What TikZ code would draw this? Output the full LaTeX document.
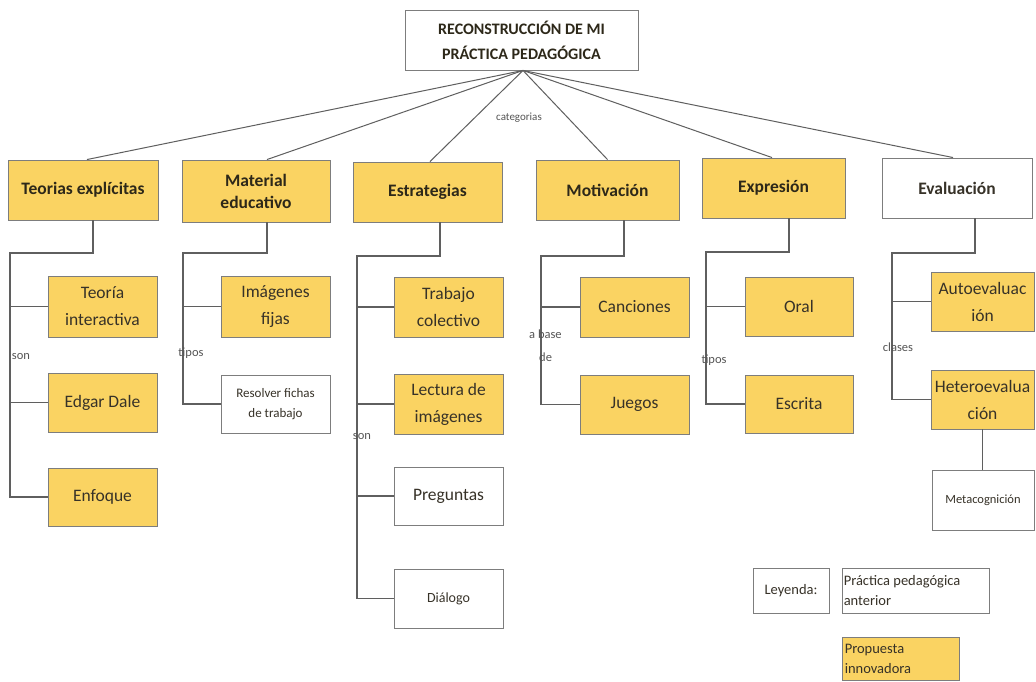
\documentclass[tikz,border=0pt]{standalone}
\usepackage{fontspec}
\setmainfont{Carlito}
\definecolor{ybox}{RGB}{250,211,98}
\definecolor{bord}{RGB}{125,125,125}
\definecolor{lin}{RGB}{95,95,95}
\definecolor{txt}{RGB}{45,40,25}
\definecolor{subtxt}{RGB}{55,50,40}
\definecolor{lbl}{RGB}{85,85,85}
\begin{document}
\begin{tikzpicture}[x=1pt,y=-1pt,
  box/.style={draw=bord, line width=0.9pt, align=center, inner sep=2pt, text=subtxt},
  yb/.style={box, fill=ybox},
  wb/.style={box, fill=white},
  lone/.style={font=\fontsize{17.5}{22}\selectfont\bfseries, text=txt},
  ltwo/.style={font=\fontsize{17.5}{27}\selectfont},
  lsmall/.style={font=\fontsize{13}{20}\selectfont},
  lab/.style={font=\fontsize{12.5}{15}\selectfont, text=lbl, inner sep=0pt},
  legtxt/.style={font=\fontsize{14.5}{20}\selectfont, text=subtxt, align=left, anchor=west, inner sep=0pt},
  con/.style={draw=lin, line width=1.1pt}]
\useasboundingbox[fill=white] (0,0) rectangle (1036,682);

% root
\node[wb, font=\fontsize{16}{25}\selectfont\bfseries, text=txt, minimum width=233pt, minimum height=60pt] (root) at (521.5,40) {RECONSTRUCCIÓN DE MI\\PRÁCTICA PEDAGÓGICA};
\coordinate (hub) at ([xshift=1.5pt]root.south);

% level 1
\node[yb,lone,minimum width=150pt,minimum height=60pt] (teo) at (83,190) {Teorias explícitas};
\node[yb,lone,minimum width=148pt,minimum height=62pt] (mat) at (256,191) {Material\\educativo};
\node[yb,lone,minimum width=149pt,minimum height=60pt] (est) at (427.5,192) {Estrategias};
\node[yb,lone,minimum width=143pt,minimum height=60pt] (mot) at (607.5,190) {Motivación};
\node[yb,lone,minimum width=143pt,minimum height=60pt] (exp) at (773.5,188) {Expresión};
\node[wb,lone,text=subtxt,minimum width=150pt,minimum height=60pt] (eva) at (957,188) {Evaluación};

\draw[con,line width=1pt] (hub) -- ([xshift=4pt]teo.north);
\draw[con,line width=1pt] (hub) -- ([xshift=11pt]mat.north);
\draw[con,line width=1pt] (hub) -- ([xshift=2.5pt]est.north);
\draw[con,line width=1pt] (hub) -- (mot.north);
\draw[con,line width=1pt] (hub) -- ([xshift=-1.5pt]exp.north);
\draw[con,line width=1pt] (hub) -- ([xshift=-4pt]eva.north);
\node[lab,font=\fontsize{11}{14}\selectfont] (cat) at (519,118) {categorias};

% Teorias column
\node[yb,ltwo,minimum width=109pt,minimum height=61pt] (ti) at (102.5,306.5) {Teoría\\interactiva};
\node[yb,ltwo,minimum width=109pt,minimum height=59pt] (ed) at (102.5,402.5) {Edgar Dale};
\node[yb,ltwo,minimum width=109pt,minimum height=58pt] (enf) at (102.5,497) {Enfoque};
\coordinate (teoJ) at (93,253);
\coordinate (teoL) at (10,253);
\draw[con] (teo.south -| teoJ) -- (teoJ) -- (teoL) |- (enf.west);
\draw[con] (teoL |- ti.west) -- (ti.west);
\draw[con] (teoL |- ed.west) -- (ed.west);
\node[lab] (lson1) at (21,357) {son};

% Material column
\node[yb,ltwo,minimum width=109pt,minimum height=61pt] (img) at (275.5,306.5) {Imágenes\\fijas};
\node[wb,lsmall,minimum width=109pt,minimum height=58pt] (res) at (275.5,404) {Resolver fichas\\de trabajo};
\coordinate (matJ) at (267,253);
\coordinate (matL) at (183,253);
\draw[con] (mat.south -| matJ) -- (matJ) -- (matL) |- (res.west);
\draw[con] (matL |- img.west) -- (img.west);
\node[lab] (ltip1) at (191,353) {tipos};

% Estrategias column
\node[yb,ltwo,minimum width=109pt,minimum height=60pt] (tc) at (448.5,307) {Trabajo\\colectivo};
\node[yb,ltwo,minimum width=109pt,minimum height=60pt] (li) at (448.5,404) {Lectura de\\imágenes};
\node[wb,ltwo,minimum width=109pt,minimum height=58pt] (pre) at (448.5,496) {Preguntas};
\node[wb,font=\fontsize{14}{18}\selectfont,minimum width=109pt,minimum height=59pt] (dia) at (448.5,598.5) {Diálogo};
\coordinate (estJ) at (440,256);
\coordinate (estL) at (357,256);
\draw[con] (est.south -| estJ) -- (estJ) -- (estL) |- (dia.west);
\draw[con] (estL |- tc.west) -- (tc.west);
\draw[con] (estL |- li.west) -- (li.west);
\draw[con] (estL |- pre.west) -- (pre.west);
\node[lab] (lson2) at (362,437) {son};

% Motivacion column
\node[yb,ltwo,minimum width=109pt,minimum height=60pt] (can) at (634.5,307) {Canciones};
\node[yb,ltwo,minimum width=109pt,minimum height=59pt] (jue) at (634.5,404.5) {Juegos};
\coordinate (motJ) at (624,256);
\coordinate (motL) at (541,256);
\draw[con] (mot.south -| motJ) -- (motJ) -- (motL) |- (jue.west);
\draw[con] (motL |- can.west) -- (can.west);
\node[lab, font=\fontsize{12.5}{23}\selectfont, align=left, anchor=north west] (lbase) at (529,330) {a base\\\hspace*{10pt}de};

% Expresion column
\node[yb,ltwo,minimum width=108pt,minimum height=59pt] (ora) at (799,306.5) {Oral};
\node[yb,ltwo,minimum width=108pt,minimum height=58pt] (esc) at (799,404) {Escrita};
\coordinate (expJ) at (789,252);
\coordinate (expL) at (706,252);
\draw[con] (exp.south -| expJ) -- (expJ) -- (expL) |- (esc.west);
\draw[con] (expL |- ora.west) -- (ora.west);
\node[lab] (ltip2) at (714,360) {tipos};

% Evaluacion column
\node[yb,ltwo,minimum width=103pt,minimum height=59pt] (aut) at (982.5,301.5) {Autoevaluac\\ión};
\node[yb,ltwo,minimum width=103pt,minimum height=59pt] (het) at (982.5,399.5) {Heteroevalua\\ción};
\node[wb,font=\fontsize{12.5}{16}\selectfont,minimum width=102pt,minimum height=60pt] (met) at (983,500) {Metacognición};
\coordinate (evaJ) at (975,253);
\coordinate (evaL) at (892,253);
\draw[con] (eva.south -| evaJ) -- (evaJ) -- (evaL) |- (het.west);
\draw[con] (evaL |- aut.west) -- (aut.west);
\draw[con] (het.south) -- (het.south |- met.north);
\node[lab] (lcla) at (898,347) {clases};

% legend
\node[wb,font=\fontsize{14.5}{18}\selectfont,minimum width=76pt,minimum height=45pt] (ley) at (791,590.5) {Leyenda:};
\node[wb,minimum width=147pt,minimum height=45pt] (pa) at (915.5,590.5) {};
\node[legtxt] (patxt) at ([xshift=2pt]pa.west) {Práctica pedagógica\\anterior};
\node[yb,minimum width=117pt,minimum height=43pt] (pi) at (900.5,658.5) {};
\node[legtxt] (pitxt) at ([xshift=3pt]pi.west) {Propuesta\\innovadora};
\end{tikzpicture}
\end{document}
